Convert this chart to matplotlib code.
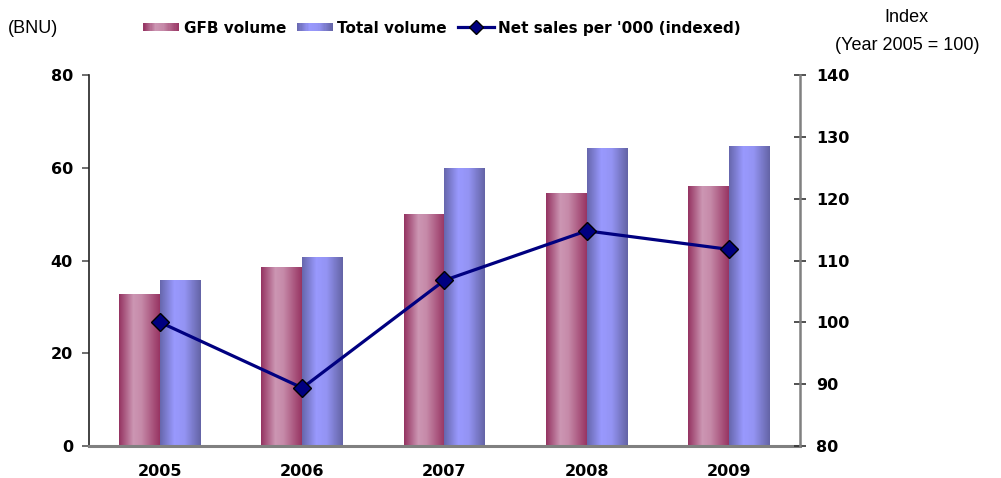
import numpy as np
import matplotlib.pyplot as plt
from matplotlib.colors import LinearSegmentedColormap
from matplotlib.patches import Rectangle
from matplotlib.lines import Line2D
from matplotlib.legend_handler import HandlerBase

# data
years = ['2005', '2006', '2007', '2008', '2009']
gfb_volume = [32.6, 38.5, 49.9, 54.5, 56.0]
total_volume = [35.7, 40.6, 59.9, 64.2, 64.6]
net_sales_index = [100.0, 89.4, 106.8, 114.8, 111.8]

# cylinder-like shading for the bars (dark edges, light centre)
gfb_cmap = LinearSegmentedColormap.from_list(
    'gfb', [(0, '#953462'), (0.35, '#cc96b3'), (0.55, '#c68aa9'), (1, '#983563')])
tot_cmap = LinearSegmentedColormap.from_list(
    'tot', [(0, '#6767ad'), (0.35, '#9999fe'), (0.6, '#9494f4'), (1, '#6464a6')])
grad = np.linspace(0, 1, 64).reshape(1, -1)


class GradientSwatch(HandlerBase):
    """legend box filled with the same shading as the bars"""
    def __init__(self, cmap, n=30):
        super().__init__()
        self.cmap = cmap
        self.n = n

    def create_artists(self, legend, orig_handle, xdescent, ydescent,
                       width, height, fontsize, trans):
        step = width / self.n
        h = height * 0.75
        y0 = -ydescent + (height - h) / 2
        return [Rectangle((-xdescent + i * step, y0), step * 1.05, h,
                          facecolor=self.cmap((i + 0.5) / self.n),
                          edgecolor='none', transform=trans)
                for i in range(self.n)]


fig = plt.figure(figsize=(10.01, 4.78), dpi=100)
ax = fig.add_axes([0.0889, 0.0669, 0.7103, 0.7762])
ax2 = ax.twinx()

x = np.arange(len(years))
w = 0.288
for xi, g, t in zip(x, gfb_volume, total_volume):
    ax.imshow(grad, cmap=gfb_cmap, aspect='auto', extent=(xi - w, xi, 0, g), zorder=2)
    ax.imshow(grad, cmap=tot_cmap, aspect='auto', extent=(xi, xi + w, 0, t), zorder=2)

ax.set_xlim(-0.5, len(years) - 0.5)
ax.set_ylim(0, 80)
ax.set_yticks([0, 20, 40, 60, 80])
ax.set_xticks(x)
ax.set_xticklabels(years)

ax2.plot(x, net_sales_index, color='#000080', lw=2.3, marker='D', ms=9,
         mfc='#000080', mec='black', mew=1, zorder=5)
ax2.set_ylim(80, 140)
ax2.set_yticks(range(80, 141, 10))

for a in (ax, ax2):
    a.spines['top'].set_visible(False)
ax.spines['left'].set_color('#222222')
ax.spines['left'].set_linewidth(1.2)
ax.spines['right'].set_visible(False)
ax.spines['bottom'].set_color('#808080')
ax.spines['bottom'].set_linewidth(2.2)
ax2.spines['right'].set_color('#808080')
ax2.spines['right'].set_linewidth(1.8)
ax2.spines['left'].set_visible(False)
ax2.spines['bottom'].set_visible(False)

ax.tick_params(axis='y', direction='out', length=5, width=1.2, color='#555555', pad=6.5)
ax.tick_params(axis='x', length=0, pad=13)
ax2.tick_params(axis='y', direction='inout', length=9, width=1.2, color='#333333', pad=7)
for lab in ax.get_yticklabels() + ax.get_xticklabels() + ax2.get_yticklabels():
    lab.set_fontweight('bold')
    lab.set_fontsize(11.5)

# legend
gfb_handle = Rectangle((0, 0), 1, 1)
tot_handle = Rectangle((0, 0), 1, 1)
line_handle = Line2D([], [], color='#000080', lw=2.3, marker='D', ms=7,
                     mfc='#000080', mec='black')
fig.legend([gfb_handle, tot_handle, line_handle],
           ['GFB volume', 'Total volume', "Net sales per '000 (indexed)"],
           handler_map={gfb_handle: GradientSwatch(gfb_cmap),
                        tot_handle: GradientSwatch(tot_cmap)},
           loc='center', bbox_to_anchor=(0.4416, 0.941), ncol=3,
           frameon=False, prop={'weight': 'bold', 'size': 11},
           handlelength=2.35, handletextpad=0.3, columnspacing=0.7)

side = dict(fontsize=13, family='Liberation Sans', va='center')
fig.text(0.008, 0.941, '(BNU)', ha='left', **side)
fig.text(0.906, 0.964, 'Index', ha='center', **side)
fig.text(0.906, 0.905, '(Year 2005 = 100)', ha='center', **side)

fig.savefig('out.png', dpi=100)
